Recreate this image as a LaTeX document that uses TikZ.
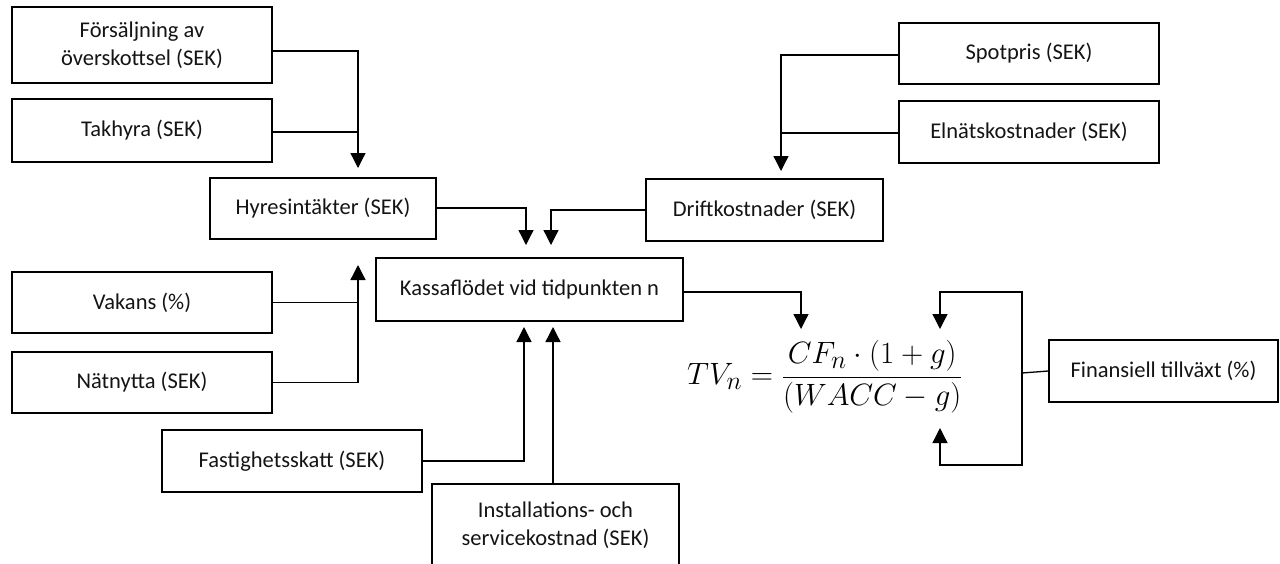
\documentclass[tikz,border=0pt]{standalone}
\usepackage{graphicx}
\usepackage{fontspec}
\setmainfont{Carlito}
\usetikzlibrary{arrows.meta}
\begin{document}
\begin{tikzpicture}[x=1pt,y=-1pt,
  box/.style={draw=black,line width=1.3pt,inner sep=0pt,align=center,
    font=\fontsize{22.5}{27.5}\selectfont,text=black!92},
  conn/.style={draw=black,line width=1.3pt},
  arr/.style={conn,-{Triangle[width=15pt,length=15pt]}}]
\useasboundingbox (0,0) rectangle (1280,563);
\clip (0,0) rectangle (1280,563);
% nodes
\node[box,minimum width=260pt,minimum height=76pt] (fors) at (142,45) {Försäljning av\\överskottsel (SEK)};
\node[box,minimum width=260pt,minimum height=63pt] (tak) at (142,130.5) {Takhyra (SEK)};
\node[box,minimum width=226pt,minimum height=61pt] (hyres) at (323,208.5) {Hyresintäkter (SEK)};
\node[box,minimum width=260pt,minimum height=61pt] (spot) at (1029,53.5) {Spotpris (SEK)};
\node[box,minimum width=260pt,minimum height=62pt] (eln) at (1029,132) {Elnätskostnader (SEK)};
\node[box,minimum width=237pt,minimum height=62pt] (drift) at (764.5,210) {Driftkostnader (SEK)};
\node[box,minimum width=307pt,minimum height=63pt] (kassa) at (529.5,289.5) {Kassaflödet vid tidpunkten n};
\node[box,minimum width=260pt,minimum height=61pt] (vak) at (142,302.5) {Vakans (\%)};
\node[box,minimum width=260pt,minimum height=61pt] (nat) at (142,382.5) {Nätnytta (SEK)};
\node[box,minimum width=260pt,minimum height=62pt] (fast) at (292,461) {Fastighetsskatt (SEK)};
\node[box,minimum width=247pt,minimum height=82pt] (inst) at (555.5,525) {Installations- och\\servicekostnad (SEK)};
\node[box,minimum width=229pt,minimum height=62pt] (fin) at (1163.5,371) {Finansiell tillväxt (\%)};
\node[inner sep=0pt] (tv) at (825,377) {\scalebox{1.24}{\Huge$\displaystyle TV_n=\frac{CF_n\cdot(1+g)}{(WACC-g)}$}};
% coordinates
\coordinate (hyTip) at (358,168);
\coordinate (drTip) at (781,171);
\coordinate (kaTL) at (526,245);
\coordinate (kaTR) at (551,245);
\coordinate (vnTip) at (358,265);
\coordinate (kaBL) at (524,327);
\coordinate (kaBR) at (553,327);
\coordinate (fTipL) at (801,329);
\coordinate (fj) at (1022,373);
\coordinate (fTop) at (940,329);
\coordinate (fBot) at (940,428);
% connectors
\draw[arr] ([yshift=-6pt]fors.east) -| (hyTip);
\draw[conn] ([yshift=-1.5pt]tak.east) -- ([yshift=-1.5pt]tak.east -| hyTip);
\draw[arr] ([yshift=-1.5pt]spot.west) -| (drTip);
\draw[conn] ([yshift=-1pt]eln.west) -- ([yshift=-1pt]eln.west -| drTip);
\draw[arr] ([yshift=0.5pt]hyres.east) -| (kaTL);
\draw[arr] (drift.west) -| (kaTR);
\draw[arr] (nat.east) -| (vnTip);
\draw[conn] (vak.east) -- (vak.east -| vnTip);
\draw[arr] (fast.east) -| (kaBL);
\draw[arr] (inst.north -| kaBR) -- (kaBR);
\draw[arr] ([yshift=-2.5pt]kassa.east) -| (fTipL);
\draw[conn] (fin.west) -- (fj);
\draw[arr] (fj) -- (fj |- 0,292) -| (fTop);
\draw[arr] (fj) -- (fj |- 0,465) -| (fBot);
\end{tikzpicture}
\end{document}
